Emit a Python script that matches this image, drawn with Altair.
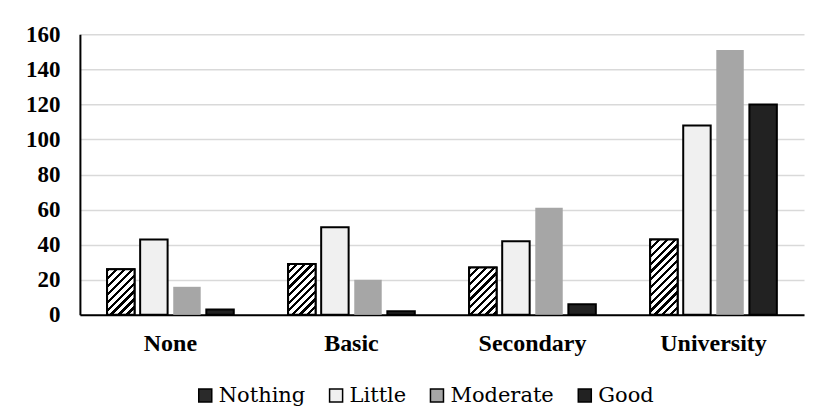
import math
import altair as alt
import pandas as pd

education = ["None", "Basic", "Secondary", "University"]
levels = ["Nothing", "Little", "Moderate", "Good"]
nothing = [26, 29, 27, 43]
little = [43, 50, 42, 108]
moderate = [16, 20, 61, 151]
good = [3, 2, 6, 120]

rows = []
for i, e in enumerate(education):
    for lvl, arr in zip(levels, [nothing, little, moderate, good]):
        rows.append({"edu": e, "level": lvl, "value": arr[i]})
df = pd.DataFrame(rows)

W, H = 725, 281
YMAX = 160
FONT = "Liberation Serif"
LEG_FONT = "DejaVu Serif"

x_enc = alt.X(
    "edu:N",
    scale=alt.Scale(domain=education, paddingInner=0.3, paddingOuter=0.15),
    axis=alt.Axis(
        title=None, labelAngle=0, labelFont=FONT, labelFontSize=24,
        labelFontWeight="bold", labelColor="black", domainColor="black",
        domainWidth=2, ticks=False, labelPadding=17,
    ),
)
xo_enc = alt.XOffset("level:N", scale=alt.Scale(domain=levels, paddingInner=0.17))
y_enc = alt.Y(
    "value:Q",
    scale=alt.Scale(domain=[0, YMAX]),
    axis=alt.Axis(
        title=None, values=list(range(0, 161, 20)), labelFont=FONT,
        labelFontSize=23, labelFontWeight="bold", labelColor="black",
        domainColor="black", domainWidth=2, ticks=False, labelPadding=20,
        gridColor="#d9d9d9", gridWidth=1.5,
    ),
)

base = alt.Chart(df).mark_bar(stroke="black").encode(
    x=x_enc,
    xOffset=xo_enc,
    y=y_enc,
    fill=alt.Fill(
        "level:N",
        scale=alt.Scale(domain=levels, range=["#2a2a2a", "#f0f0f0", "#a6a6a6", "#222222"]),
        legend=alt.Legend(
            title=None, orient="none", legendX=115, legendY=351,
            direction="horizontal", symbolType="square", symbolSize=170,
            symbolStrokeColor="black", symbolStrokeWidth=1.5,
            labelFont=LEG_FONT, labelFontSize=21, labelFontWeight="normal",
            labelColor="black", columnPadding=20, labelOffset=3,
        ),
    ),
    strokeWidth=alt.condition("datum.level === 'Moderate'", alt.value(0), alt.value(2)),
)

# diagonal hatching for the "Nothing" bars, via striped linear gradients
BAR_W = 27.5
PERIOD = 5.5
layers = [base]
for i, e in enumerate(education):
    h = nothing[i] * H / YMAX
    r = h / BAR_W
    n = max(1, int(round(BAR_W * (1 + r * r) / (math.sqrt(2) * PERIOD))))
    stops = []
    for k in range(n):
        a = k / n
        b = (k + 0.42) / n
        c = (k + 1) / n
        stops += [
            {"offset": a, "color": "black"},
            {"offset": b, "color": "black"},
            {"offset": b, "color": "white"},
            {"offset": c, "color": "white"},
        ]
    grad = alt.LinearGradient(gradient="linear", x1=0, y1=0, x2=1, y2=r, stops=stops)
    layer = (
        alt.Chart(df)
        .transform_filter((alt.datum.edu == e) & (alt.datum.level == "Nothing"))
        .mark_bar(fill=grad, stroke="black", strokeWidth=2)
        .encode(x=x_enc, xOffset=xo_enc, y=y_enc)
    )
    layers.append(layer)

chart = (
    alt.layer(*layers)
    .properties(width=W, height=H, padding={"left": 17, "top": 15, "right": 5, "bottom": 5})
    .configure_view(stroke=None)
    .configure_legend(labelFont=LEG_FONT, labelFontSize=21, labelColor="black")
)

chart.save("out.html", embed_options={"renderer": "svg", "actions": False})
